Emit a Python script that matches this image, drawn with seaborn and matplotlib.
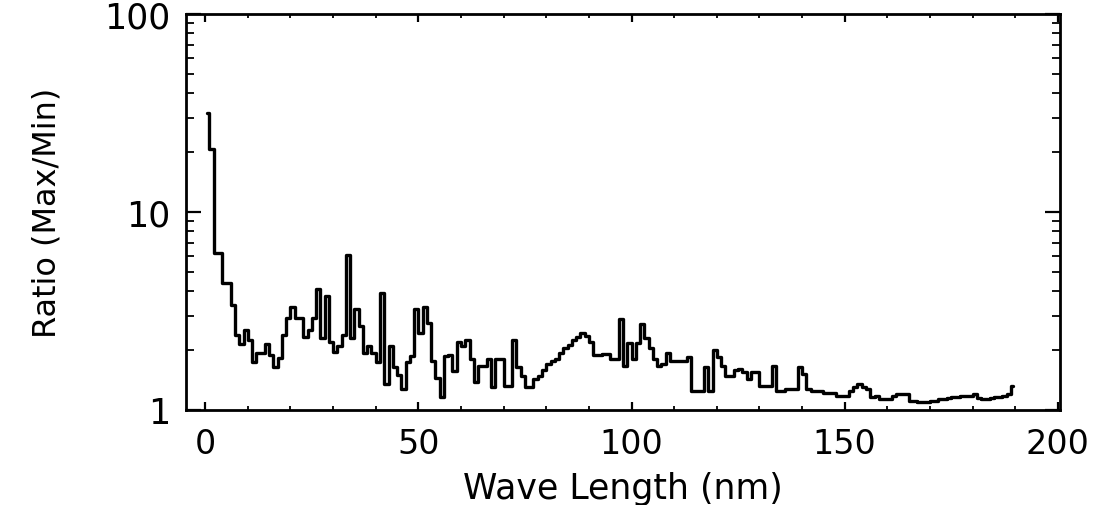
import numpy as np
import pandas as pd
import matplotlib
matplotlib.use("Agg")
import matplotlib.pyplot as plt
import seaborn as sns
from matplotlib.ticker import LogLocator, FixedLocator, MultipleLocator, FuncFormatter

# 1-nm bins, bin centres from 0.5 to 189.5 nm
wavelength = np.arange(0.5, 190.0, 1.0)

ratio = [
    31.7, 20.9, 6.2, 6.2, 4.4, 4.4, 3.4, 2.4, 2.15, 2.55,      # 0-9
    2.27, 1.74, 1.95, 1.95, 2.15, 1.9, 1.64, 1.83, 2.4, 2.9,    # 10-19
    3.3, 2.9, 2.9, 2.35, 2.55, 2.9, 4.1, 2.3, 3.75, 2.2,        # 20-29
    1.97, 2.1, 2.4, 6.1, 2.32, 3.22, 2.65, 1.93, 2.1, 1.95,     # 30-39
    1.74, 3.9, 1.35, 2.1, 1.64, 1.5, 1.27, 1.74, 1.87, 3.22,    # 40-49
    2.45, 3.3, 2.76, 1.76, 1.45, 1.16, 1.87, 1.9, 1.58, 2.2,    # 50-59
    2.1, 2.27, 1.8, 1.38, 1.67, 1.67, 1.8, 1.30, 1.8, 1.8,      # 60-69
    1.32, 1.32, 2.27, 1.64, 1.49, 1.30, 1.30, 1.43, 1.49, 1.60,  # 70-79
    1.70, 1.77, 1.80, 1.95, 2.05, 2.14, 2.27, 2.33, 2.45, 2.36,  # 80-89
    2.2, 1.9, 1.9, 1.91, 1.91, 1.80, 1.80, 2.87, 1.67, 2.19,    # 90-99
    1.80, 2.19, 2.71, 2.3, 2.05, 1.80, 1.67, 1.7, 1.95, 1.77,   # 100-109
    1.77, 1.77, 1.77, 1.85, 1.25, 1.25, 1.25, 1.64, 1.25, 2.0,  # 110-119
    1.85, 1.67, 1.49, 1.49, 1.6, 1.61, 1.55, 1.43, 1.55, 1.55,  # 120-129
    1.32, 1.32, 1.32, 1.67, 1.25, 1.25, 1.27, 1.27, 1.27, 1.64,  # 130-139
    1.52, 1.27, 1.25, 1.25, 1.25, 1.22, 1.22, 1.22, 1.18, 1.18,  # 140-149
    1.18, 1.25, 1.30, 1.35, 1.30, 1.27, 1.16, 1.18, 1.14, 1.14,  # 150-159
    1.14, 1.18, 1.2, 1.2, 1.2, 1.11, 1.11, 1.10, 1.10, 1.10,    # 160-169
    1.11, 1.11, 1.13, 1.14, 1.15, 1.16, 1.16, 1.17, 1.18, 1.18,  # 170-179
    1.2, 1.15, 1.14, 1.14, 1.15, 1.16, 1.16, 1.17, 1.2, 1.32,   # 180-189
]

xticks = [0, 50, 100, 150, 200]
yticks = [1, 10, 100]

df = pd.DataFrame({"Wave Length (nm)": wavelength, "Ratio": ratio})

sns.set_style("ticks")
plt.rcParams["font.family"] = ["DejaVu Sans"]
plt.rcParams["text.color"] = "black"
plt.rcParams["axes.labelcolor"] = "black"
plt.rcParams["xtick.color"] = "black"
plt.rcParams["ytick.color"] = "black"

fig = plt.figure(figsize=(11.03, 5.06), dpi=100)
ax = fig.add_axes([186 / 1103, 1 - 411 / 506, (1060 - 186) / 1103, (411 - 15) / 506])

sns.lineplot(data=df, x="Wave Length (nm)", y="Ratio", ax=ax,
             drawstyle="steps-mid", color="black", linewidth=2.4,
             estimator=None, sort=False)

ax.set_yscale("log")
ax.set_ylim(1, 100)
ax.set_xlim(-4.5, 200.5)

ax.xaxis.set_major_locator(FixedLocator(xticks))
ax.xaxis.set_minor_locator(MultipleLocator(10))
ax.yaxis.set_major_locator(FixedLocator(yticks))
ax.yaxis.set_minor_locator(LogLocator(base=10, subs=np.arange(2, 10)))
ax.yaxis.set_major_formatter(FuncFormatter(lambda v, p: f"{v:g}"))
ax.yaxis.set_minor_formatter(FuncFormatter(lambda v, p: ""))

ax.tick_params(axis="x", which="major", direction="in", length=6, width=1.6,
               top=True, bottom=True, labelsize=24, pad=12, colors="black")
ax.tick_params(axis="x", which="minor", direction="in", length=3, width=1.3,
               top=True, bottom=True, colors="black")
ax.tick_params(axis="y", which="major", direction="in", length=11, width=1.6,
               left=True, right=True, labelsize=25, pad=11, colors="black")
ax.tick_params(axis="y", which="minor", direction="in", length=6, width=1.3,
               left=True, right=True, colors="black")

for s in ax.spines.values():
    s.set_linewidth(2.0)
    s.set_color("black")

ax.set_xlabel("Wave Length (nm)", fontsize=25, labelpad=8, color="black")
ax.set_ylabel("Ratio (Max/Min)", fontsize=23, labelpad=30, color="black")

fig.savefig("out.png", dpi=100)
